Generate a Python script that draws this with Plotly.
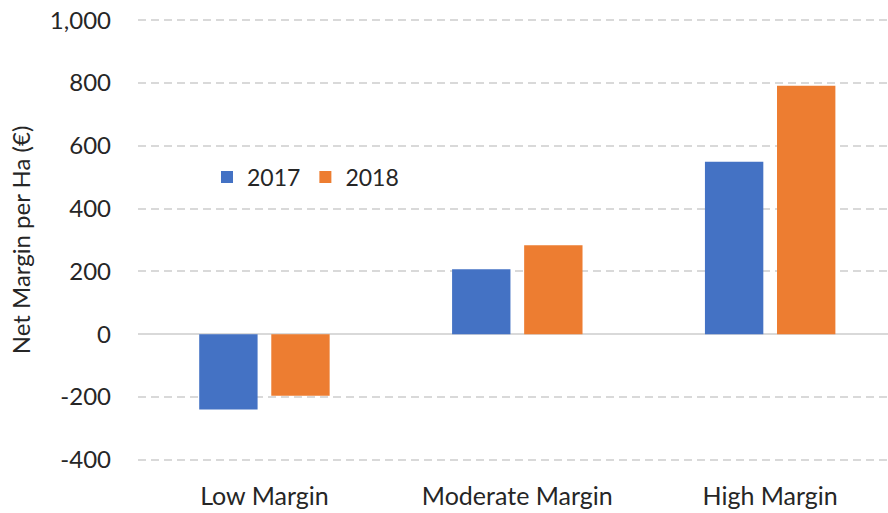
import plotly.graph_objects as go

categories = ["Low Margin", "Moderate Margin", "High Margin"]
series_names = ["2017", "2018"]
values_2017 = [-240, 207, 549]
values_2018 = [-196, 283, 791]
y_tickvals = [-400, -200, 0, 200, 400, 600, 800, 1000]
y_ticktext = ["-400", "-200", "0", "200", "400", "600", "800", "1,000"]

colors = ["#4472C4", "#ED7D31"]
FONT = "Lato, 'Open Sans', sans-serif"
TXT = "#262626"

fig = go.Figure()
for name, vals, c in zip(series_names, [values_2017, values_2018], colors):
    fig.add_trace(go.Bar(x=categories, y=vals, name=name, marker_color=c,
                         marker_line_width=0))

fig.update_layout(
    width=888, height=513,
    margin=dict(l=138, r=0, t=17, b=50),
    paper_bgcolor="white", plot_bgcolor="white",
    barmode="group", bargap=0.43, bargroupgap=0.19,
    font=dict(family=FONT, size=24, color=TXT),
    legend=dict(orientation="h", x=0.092, y=0.641, xanchor="left", yanchor="middle",
                font=dict(size=23, color=TXT), bgcolor="rgba(0,0,0,0)",
                tracegroupgap=0),
    showlegend=True,
)
fig.update_xaxes(
    type="category", range=[-0.5, 2.466], showgrid=False, showline=False,
    ticks="", tickfont=dict(size=25, color=TXT), automargin=False,
    ticklabelstandoff=16,
)
fig.update_yaxes(
    range=[-410, 1010], tickvals=y_tickvals, ticktext=y_ticktext,
    showgrid=True, gridcolor="#D9D9D9", griddash="8px,5px", gridwidth=1.5,
    zeroline=True, zerolinecolor="#D9D9D9", zerolinewidth=1.5,
    showline=False, ticks="", ticklabelstandoff=26, automargin=False,
    tickfont=dict(size=24, color=TXT),
    title=dict(text="Net Margin per Ha (€)", font=dict(size=24, color=TXT), standoff=12),
)

fig.write_html("out.html", config={"displayModeBar": False},
               post_script="document.body.style.margin='0px';")
